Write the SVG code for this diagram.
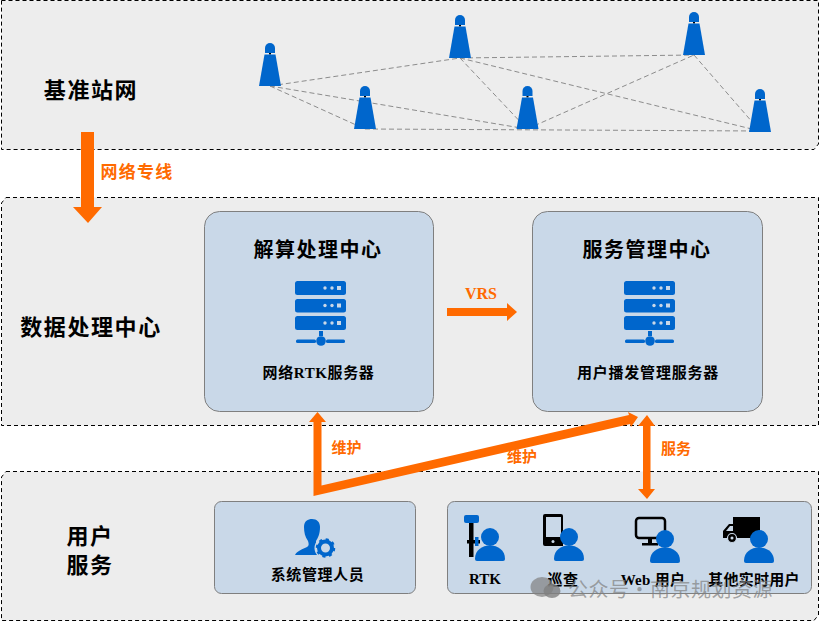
<svg xmlns="http://www.w3.org/2000/svg" xmlns:xlink="http://www.w3.org/1999/xlink" width="820" height="621" viewBox="0 0 820 621">
<style>
text{font-family:"Liberation Serif","Noto Sans CJK SC",serif;font-weight:700;fill:#000;text-anchor:middle}
.band{fill:#ededed;stroke:#000;stroke-width:1;stroke-dasharray:4 3}
.card{fill:#c9d8e8;stroke:#7f7f7f;stroke-width:1}
.net{fill:none;stroke:#8c8c8c;stroke-width:1;stroke-dasharray:5 3}
.big{font-size:22px;letter-spacing:1.600px}
.title{font-size:20px;letter-spacing:1.500px}
.sub{font-size:15px;letter-spacing:.6px}
.or{fill:#ff6a00;font-size:15px}
.blue{fill:#0066cc}
.arrow{fill:#ff6a00}
.wm{font-family:"Noto Sans CJK SC","Liberation Sans",sans-serif;font-weight:400;font-size:20px;fill:#808080;fill-opacity:.7;text-anchor:start;letter-spacing:.5px}
</style>
<defs>
<g id="tower">
<path class="blue" d="M-5 10V5A5 5 0 0 1 5 5V10Z"/>
<rect x="-1" y="10" width="2" height="1.500" fill="#000"/>
<path class="blue" d="M-5.500 11.500H5.500L11 43H-11Z"/>
</g>
<g id="server">
<g class="blue">
<rect x="-26" y="0" width="51" height="14" rx="2.500"/>
<rect x="-26" y="18" width="51" height="13.500" rx="2.500"/>
<rect x="-26" y="35" width="51" height="14" rx="2.500"/>
<rect x="-2" y="50" width="4" height="5"/>
<circle cx="0" cy="60" r="4.800"/>
<rect x="-25" y="58.500" width="20" height="3.500" rx="1.500"/>
<rect x="5" y="58.500" width="19" height="3.500" rx="1.500"/>
</g>
<g fill="#c9d8e8">
<circle cx="4" cy="7" r="1.700"/><circle cx="11" cy="7" r="1.700"/><rect x="16" y="5" width="4" height="4"/>
<circle cx="4" cy="24.500" r="1.700"/><circle cx="11" cy="24.500" r="1.700"/><rect x="16" y="22.500" width="4" height="4"/>
<circle cx="4" cy="42" r="1.700"/><circle cx="11" cy="42" r="1.700"/><rect x="16" y="40" width="4" height="4"/>
</g>
</g>
<g id="user" class="blue">
<circle cx="0" cy="-16" r="9"/>
<path d="M-15 6C-15 -3 -8 -7.500 0 -7.500C8 -7.500 15 -3 15 6Q15 8 13 8H-13Q-15 8 -15 6Z"/>
</g>
</defs>

<g id="band-stations">
<path class="band" d="M1.500 0.500H818.500V144L814 149.500H1.500Z"/>
</g>
<g id="band-center">
<path class="band" d="M6 197.500H818.500V425.500H1.500V203Z"/>
</g>
<g id="band-users">
<path class="band" d="M6 471.500H818.500V615L814 620.500H1.500V477Z"/>
</g>

<g id="connectors">
<path class="net" d="M270 86L460 58M270 86L365 129M270 86L527 129M365 129L760 131M460 58L527 129M460 58L694 55M460 58L760 131M527 129L694 55M694 55L760 131"/>
<path class="arrow" d="M81 132H94V207H102L88 223L73 207H81Z"/>
<path class="arrow" d="M447 308H507V303L517 312L507 321V316H447Z"/>
<path class="arrow" d="M313.500 496V422H309L317.500 412L326 422H321.500V485.500L629 415L628 412L638 417L631 427L630 424Z"/>
<path class="arrow" d="M643 426H638L647 415L655 426H650.500V489H655L647 499L638 489H643Z"/>
</g>

<g id="station-label"><text class="big" x="91" y="98">基准站网</text></g>
<g id="station-1"><use xlink:href="#tower" x="270" y="43"/></g>
<g id="station-2"><use xlink:href="#tower" x="365" y="86"/></g>
<g id="station-3"><use xlink:href="#tower" x="460" y="15"/></g>
<g id="station-4"><use xlink:href="#tower" x="527.500" y="86"/></g>
<g id="station-5"><use xlink:href="#tower" x="694" y="12"/></g>
<g id="station-6"><use xlink:href="#tower" x="760" y="89"/></g>

<text class="or" x="137" y="178" style="font-size:17px;letter-spacing:1.300px">网络专线</text>
<g id="center-label"><text class="big" x="91" y="335">数据处理中心</text></g>

<g id="solver">
<rect class="card" x="204.500" y="211.500" width="229" height="200" rx="15"/>
<text class="title" x="318" y="257">解算处理中心</text>
<use xlink:href="#server" x="321" y="281"/>
<text class="sub" x="318.500" y="378">网络RTK服务器</text>
</g>
<text class="or" x="481" y="299" style="font-size:16px">VRS</text>
<g id="manager">
<rect class="card" x="532.500" y="211.500" width="230" height="200" rx="15"/>
<text class="title" x="647" y="257">服务管理中心</text>
<use xlink:href="#server" x="650" y="281"/>
<text class="sub" x="648" y="378" style="letter-spacing:.8px">用户播发管理服务器</text>
</g>

<text class="or" x="346.500" y="453">维护</text>
<text class="or" x="522" y="462">维护</text>
<text class="or" x="676" y="454">服务</text>

<g id="users-label"><text class="big" x="90" y="544">用户</text><text class="big" x="90" y="573">服务</text></g>

<g id="admin">
<rect class="card" x="214.500" y="501.500" width="201" height="92" rx="7"/>
<path class="blue" d="M304 527C304 521 308 519 312 519C317 519 320 522 320 527C320 534 318 538 316 541V546L322 550V555H295C297 551 303 549 307 547C309 546 309 544 308 541C305 537 304 532 304 527Z"/>
<circle cx="325.500" cy="548" r="11" fill="#c9d8e8"/>
<circle cx="325.500" cy="548" r="6.500" fill="none" stroke="#0066cc" stroke-width="4"/>
<circle cx="325.500" cy="548" r="8.500" fill="none" stroke="#0066cc" stroke-width="2.500" stroke-dasharray="3 3.670"/>
<text class="sub" x="317.500" y="580">系统管理人员</text>
</g>

<g id="user-services">
<rect class="card" x="447.500" y="501.500" width="364" height="92" rx="7"/>
<g id="rtk-user">
<rect class="blue" x="464" y="515" width="15" height="8" rx="2"/>
<rect x="469" y="523" width="4.500" height="34" fill="#000"/>
<rect x="467" y="540" width="13" height="3.500" fill="#000"/>
<rect class="blue" x="475" y="537" width="3.500" height="9"/>
<use xlink:href="#user" x="490" y="553"/>
<text class="sub" x="485" y="584" style="letter-spacing:0">RTK</text>
</g>
<g id="patrol-user">
<path fill="#000" d="M545 514H561Q563 514 563 516V546H545Q543 546 543 544V516Q543 514 545 514Z"/>
<rect x="546" y="517" width="15" height="20" fill="#c9d8e8"/>
<circle cx="553" cy="541.500" r="1.500" fill="#c9d8e8"/>
<use xlink:href="#user" x="569" y="553"/>
<text class="sub" x="563" y="585">巡查</text>
</g>
<g id="web-user">
<rect x="636" y="518" width="29" height="20" rx="3" fill="none" stroke="#000" stroke-width="2.500"/>
<rect x="648" y="538" width="4" height="6" fill="#000"/>
<rect x="642" y="543" width="16" height="2.500" fill="#000"/>
<use xlink:href="#user" x="665" y="555"/>
<text class="sub" x="653" y="585" style="letter-spacing:.3px">Web 用户</text>
</g>
<g id="other-user">
<path fill="#000" d="M733 517H760V538H723V531L729 524H733Z"/>
<path d="M726 531L730 526H733V531Z" fill="#c9d8e8"/>
<circle cx="732" cy="538" r="4.500" fill="#000" stroke="#c9d8e8" stroke-width="1.200"/>
<circle cx="732" cy="538" r="1.500" fill="#c9d8e8"/>
<use xlink:href="#user" x="759" y="555"/>
<text class="sub" x="754" y="585" style="letter-spacing:.3px">其他实时用户</text>
</g>
</g>

<g id="watermark">
<ellipse cx="542" cy="587" rx="11.500" ry="10" fill="#808080" fill-opacity=".7"/>
<ellipse cx="552" cy="591" rx="8.500" ry="7" fill="#808080" fill-opacity=".8"/>
<text class="wm" x="568" y="597">公众号·南京规划资源</text>
</g>
</svg>
